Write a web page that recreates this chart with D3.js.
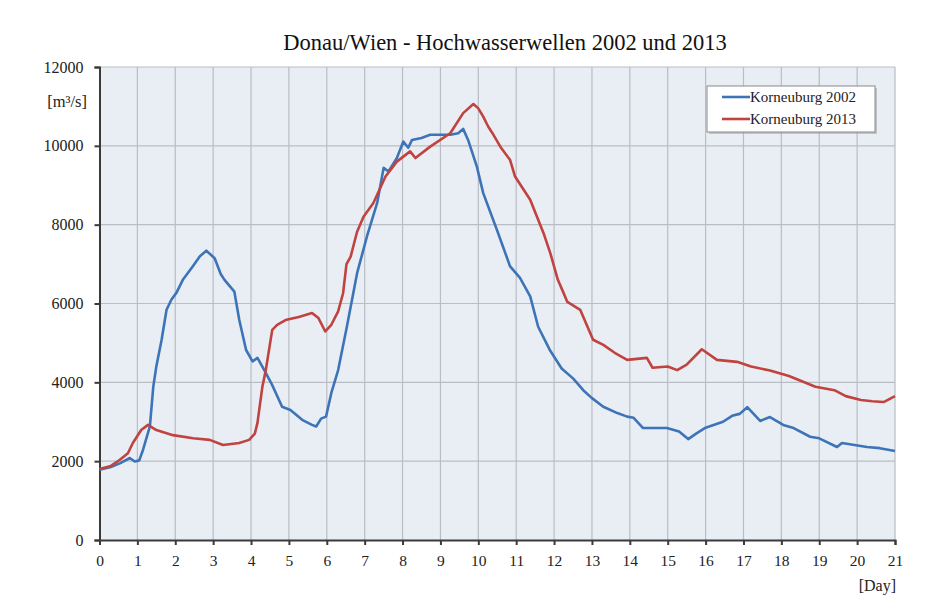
<!DOCTYPE html>
<html><head><meta charset="utf-8">
<script src="https://cdn.jsdelivr.net/npm/d3@7"></script>
<style>
html,body{margin:0;padding:0;background:#fff;}
svg{display:block;font-family:"Liberation Serif","Times New Roman",serif;}
</style></head>
<body>
<svg id="chart" width="941" height="608"></svg>
<script>
const chartTitle = "Donau/Wien - Hochwasserwellen 2002 und 2013";
const seriesNames = ["Korneuburg 2002", "Korneuburg 2013"];
const xTicks = d3.range(0, 22);
const yTicks = [0, 2000, 4000, 6000, 8000, 10000, 12000];

const days2002 = [0,0.3,0.55,0.8,0.93,1.05,1.15,1.33,1.42,1.5,1.64,1.77,1.9,2.03,2.2,2.46,2.65,2.82,3.04,3.2,3.3,3.56,3.69,3.87,4.04,4.17,4.39,4.56,4.82,5.04,5.35,5.61,5.72,5.85,5.98,6.12,6.3,6.53,6.8,7.06,7.33,7.5,7.63,7.85,8.02,8.15,8.25,8.5,8.73,9.26,9.47,9.6,9.73,9.96,10.13,10.49,10.84,11.1,11.37,11.58,11.9,12.2,12.5,12.77,13.0,13.3,13.67,13.93,14.1,14.35,14.98,15.3,15.54,15.75,16.0,16.46,16.7,16.9,17.1,17.44,17.7,18.05,18.3,18.76,19.0,19.47,19.6,20.26,20.6,21.0];
const flow2002 = [1780,1850,1950,2080,1990,2020,2290,2880,3890,4400,5080,5840,6100,6270,6600,6940,7200,7340,7150,6750,6600,6300,5580,4820,4530,4620,4240,3930,3380,3300,3050,2920,2880,3080,3130,3730,4310,5410,6770,7700,8550,9440,9350,9690,10110,9950,10150,10200,10280,10280,10320,10430,10150,9480,8800,7870,6940,6650,6180,5410,4800,4350,4100,3800,3600,3380,3220,3130,3100,2840,2840,2750,2560,2700,2850,3000,3150,3200,3370,3020,3120,2920,2850,2620,2580,2360,2460,2360,2330,2260];

const days2013 = [0,0.3,0.53,0.75,0.88,1.1,1.28,1.5,1.94,2.47,2.91,3.26,3.69,3.95,4.1,4.17,4.3,4.39,4.56,4.69,4.91,5.26,5.61,5.78,5.96,6.12,6.3,6.43,6.52,6.63,6.8,6.97,7.23,7.55,7.85,8.2,8.34,8.73,9.26,9.6,9.87,10.0,10.13,10.26,10.4,10.6,10.84,10.97,11.37,11.72,11.9,12.1,12.25,12.35,12.69,13.03,13.3,13.6,13.93,14.45,14.6,15.0,15.25,15.5,15.9,16.3,16.83,17.2,17.7,18.2,18.9,19.4,19.7,20.1,20.4,20.7,21.0];
const flow2013 = [1800,1880,2030,2200,2460,2790,2920,2790,2660,2580,2540,2410,2460,2540,2700,2970,3890,4310,5330,5460,5580,5660,5760,5630,5290,5460,5800,6260,7000,7190,7820,8200,8550,9220,9600,9860,9690,9980,10320,10830,11060,10950,10740,10490,10280,9950,9640,9220,8630,7790,7280,6600,6270,6040,5840,5080,4950,4750,4570,4620,4370,4400,4310,4450,4840,4570,4520,4400,4300,4160,3890,3800,3650,3550,3520,3500,3650];

const colors = ["#3d74b8", "#c0433f"];

const svg = d3.select("#chart");
const mLeft = 99.5, mRight = 895, mTop = 67, mBottom = 540;
const x = d3.scaleLinear().domain([0, 21]).range([mLeft, mRight]);
const y = d3.scaleLinear().domain([0, 12000]).range([mBottom, mTop]);

// plot background
svg.append("rect").attr("x", mLeft).attr("y", mTop).attr("width", mRight - mLeft).attr("height", mBottom - mTop).attr("fill", "#e9eef5");

// grid
svg.append("g").selectAll("line").data(xTicks.slice(1)).join("line")
  .attr("x1", d => x(d)).attr("x2", d => x(d)).attr("y1", mTop).attr("y2", mBottom)
  .attr("stroke", "#b9bdc4").attr("stroke-width", 1.2);
svg.append("g").selectAll("line").data(yTicks.slice(1)).join("line")
  .attr("x1", mLeft).attr("x2", mRight).attr("y1", d => y(d)).attr("y2", d => y(d))
  .attr("stroke", "#b9bdc4").attr("stroke-width", 1.2);

// axes
const xAxis = svg.append("g").attr("transform", `translate(0,${mBottom})`)
  .call(d3.axisBottom(x).tickValues(xTicks).tickFormat(d3.format("d")).tickSize(5).tickPadding(10));
const yAxis = svg.append("g").attr("transform", `translate(${mLeft},0)`)
  .call(d3.axisLeft(y).tickValues(yTicks).tickFormat(d3.format("d")).tickSize(5).tickPadding(11));
[xAxis, yAxis].forEach(g => {
  g.select(".domain").attr("stroke", "#3a3a3a").attr("stroke-width", 2);
  g.selectAll(".tick line").attr("stroke", "#3a3a3a").attr("stroke-width", 2);
  g.selectAll("text").attr("fill", "#222").style("font-family", "'Liberation Serif', serif");
});
xAxis.selectAll("text").style("font-size", "15.5px");
yAxis.selectAll("text").style("font-size", "16px");

// lines
const line = d3.line().x(d => x(d[0])).y(d => y(d[1]));
const series = [d3.zip(days2002, flow2002), d3.zip(days2013, flow2013)];
series.forEach((s, i) => {
  svg.append("path").datum(s).attr("d", line).attr("fill", "none")
    .attr("stroke", colors[i]).attr("stroke-width", 2.6).attr("stroke-linejoin", "round");
});

// title and units
svg.append("text").attr("x", 505).attr("y", 50).attr("text-anchor", "middle")
  .style("font-size", "22.5px").attr("fill", "#111").text(chartTitle);
svg.append("text").attr("x", 87).attr("y", 107).attr("text-anchor", "end")
  .style("font-size", "16.5px").attr("fill", "#222").text("[m³/s]");
svg.append("text").attr("x", 896).attr("y", 591).attr("text-anchor", "end")
  .style("font-size", "16px").attr("fill", "#222").text("[Day]");

// legend
const lg = svg.append("g");
lg.append("rect").attr("x", 709).attr("y", 88).attr("width", 168).attr("height", 46).attr("fill", "#999").attr("opacity", 0.5);
lg.append("rect").attr("x", 707).attr("y", 86).attr("width", 168).attr("height", 46)
  .attr("fill", "#fff").attr("stroke", "#8a8a8a").attr("stroke-width", 1);
seriesNames.forEach((n, i) => {
  const yy = 97 + i * 22;
  lg.append("line").attr("x1", 722).attr("x2", 750).attr("y1", yy).attr("y2", yy)
    .attr("stroke", colors[i]).attr("stroke-width", 2.6);
  lg.append("text").attr("x", 750).attr("y", yy + 5).style("font-size", "15px").attr("fill", "#222").text(n);
});
</script>
</body></html>
